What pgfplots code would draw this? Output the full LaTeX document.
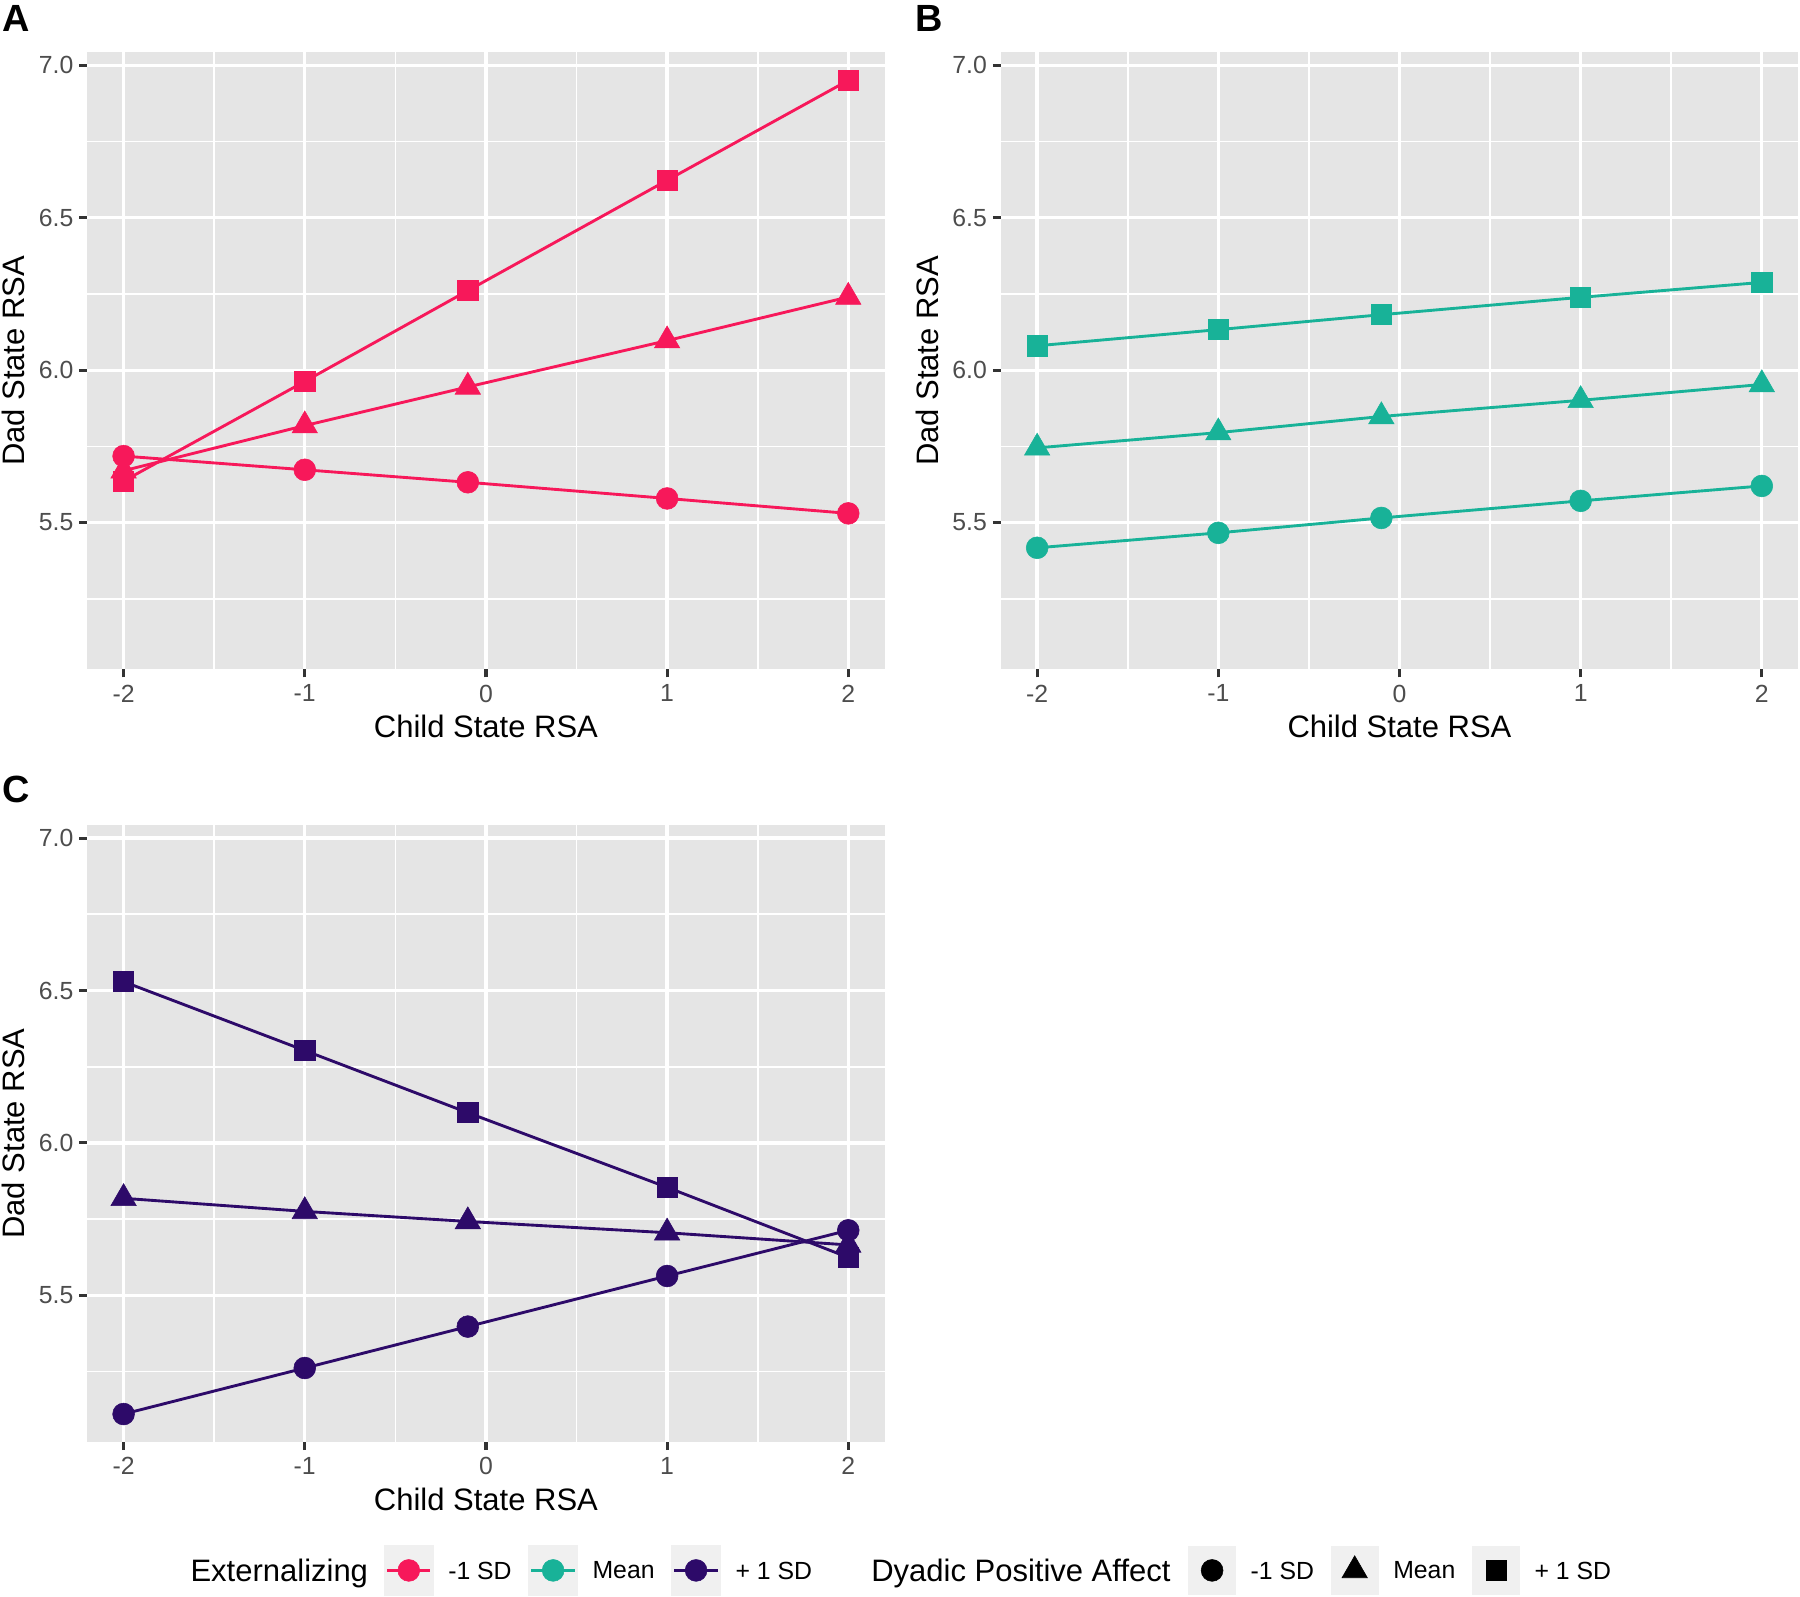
\documentclass[border=0pt]{standalone}
\usepackage{fontspec}
\setmainfont{Liberation Sans}
\usepackage{pgfplots}
\pgfplotsset{compat=1.18}
\definecolor{pinkc}{RGB}{247,24,90}
\definecolor{tealc}{RGB}{24,178,152}
\definecolor{purplec}{RGB}{45,10,105}
\definecolor{panelbg}{RGB}{229,229,229}
\definecolor{keybg}{RGB}{240,240,240}
\definecolor{tickc}{RGB}{77,77,77}
\definecolor{tickmark}{RGB}{51,51,51}

\pgfplotsset{
  ggpanel/.style={
    scale only axis, width=277.76pt, height=215pt,
    xmin=-2.2, xmax=2.2, ymin=5.018, ymax=7.043,
    axis background/.style={fill=panelbg},
    axis line style={draw=none},
    xtick={-2,-1,0,1,2}, xticklabels={-2,-1,0,1,2},
    minor xtick={-1.5,-0.5,0.5,1.5},
    ytick={5.5,6,6.5,7}, yticklabels={5.5,6.0,6.5,7.0},
    minor ytick={5.25,5.75,6.25,6.75},
    grid=both,
    major grid style={white, line width=1.15pt},
    minor grid style={white, line width=0.58pt},
    tick align=outside, tick pos=left,
    major tick length=2.8pt, minor tick length=0pt,
    major tick style={tickmark, line width=1.1pt},
    ticklabel style={font=\fontsize{8.64}{10}\selectfont, text=tickc, inner sep=0pt},
    xticklabel style={anchor=north, yshift=-2.4pt},
    yticklabel style={anchor=east, xshift=-1.9pt},
    xlabel={Child State RSA}, ylabel={Dad State RSA},
    label style={font=\fontsize{10.8}{13}\selectfont, inner sep=0pt},
    xlabel style={at={(axis description cs:0.5,-0.0929)}, anchor=center},
    ylabel style={at={(axis description cs:-0.0922,0.5)}, anchor=center},
  },
  sq/.style={line width=1pt, mark=square*, mark size=3.5pt, mark options={solid, line width=0.2pt}},
  tri/.style={line width=1pt, mark=triangle*, mark size=5.1pt, mark options={solid, line width=0.2pt}},
  cir/.style={line width=1pt, mark=*, mark size=3.8pt, mark options={solid, line width=0.2pt}},
  keyline/.style={legend image code/.code={%
      \fill[keybg] (0pt,-8.3pt) rectangle (16.3pt,8.3pt);
      \draw[##1] (0.6pt,0pt) -- (15.7pt,0pt);
      \draw[##1] plot[only marks] coordinates {(8.15pt,0pt)};
  }},
  keymark/.style={legend image code/.code={%
      \fill[keybg] (0pt,-8.3pt) rectangle (16.3pt,8.3pt);
      \draw[##1] plot[only marks] coordinates {(8.15pt,0pt)};
  }},
  gglegend/.style={
    hide axis, scale only axis, width=1pt, height=1pt,
    xmin=0, xmax=1, ymin=0, ymax=1, anchor=south west,
    legend columns=-1,
    legend style={at={(0,0)}, anchor=west, draw=none, fill=none, inner sep=0pt,
      font=\fontsize{8.64}{10}\selectfont,
      nodes={inner sep=0pt, text depth=0pt},
      /tikz/every odd column/.append style={column sep=5.1pt},
      /tikz/every even column/.append style={column sep=5.8pt}},
  },
}

\begin{document}
\begin{tikzpicture}[x=1pt,y=1pt]
\useasboundingbox (0,0) rectangle (627.2,-556.4);

% Panel A
\begin{axis}[ggpanel, at={(30.44pt,-233.24pt)}, anchor=south west]
\addplot[pinkc, cir] coordinates {(-2,5.718) (-1,5.673) (-0.1,5.632) (1,5.579) (2,5.530)};
\addplot[pinkc, tri] coordinates {(-2,5.670) (-1,5.818) (-0.1,5.945) (1,6.097) (2,6.240)};
\addplot[pinkc, sq] coordinates {(-2,5.636) (-1,5.963) (-0.1,6.261) (1,6.623) (2,6.951)};
\end{axis}

% Panel B
\begin{axis}[ggpanel, at={(348.76pt,-233.24pt)}, anchor=south west]
\addplot[tealc, cir] coordinates {(-2,5.417) (-1,5.466) (-0.1,5.515) (1,5.571) (2,5.620)};
\addplot[tealc, tri] coordinates {(-2,5.745) (-1,5.795) (-0.1,5.848) (1,5.901) (2,5.953)};
\addplot[tealc, sq] coordinates {(-2,6.080) (-1,6.133) (-0.1,6.182) (1,6.239) (2,6.288)};
\end{axis}

% Panel C
\begin{axis}[ggpanel, at={(30.44pt,-502.48pt)}, anchor=south west]
\addplot[purplec, cir] coordinates {(-2,5.110) (-1,5.261) (-0.1,5.397) (1,5.563) (2,5.713)};
\addplot[purplec, tri] coordinates {(-2,5.818) (-1,5.775) (-0.1,5.742) (1,5.705) (2,5.665)};
\addplot[purplec, sq] coordinates {(-2,6.529) (-1,6.303) (-0.1,6.099) (1,5.854) (2,5.624)};
\end{axis}

% Panel tags
\node[anchor=north west, inner sep=0pt, font=\fontsize{13.2}{15}\bfseries] at (0.6,-1.8) {A};
\node[anchor=north west, inner sep=0pt, font=\fontsize{13.2}{15}\bfseries] at (318.9,-1.8) {B};
\node[anchor=north west, inner sep=0pt, font=\fontsize{13.2}{15}\bfseries] at (0.6,-270.2) {C};

% Legend titles
\node[anchor=base west, inner sep=0pt, font=\fontsize{10.8}{13}\selectfont] at (66.2,-551.1) {Externalizing};
\node[anchor=base west, inner sep=0pt, font=\fontsize{10.8}{13}\selectfont] at (303.4,-551.1) {Dyadic Positive Affect};

% Legend 1: Externalizing
\begin{axis}[gglegend, at={(133.6pt,-547.2pt)}]
\addlegendimage{keyline, color=pinkc, line width=1pt, mark=*, mark size=3.8pt, mark options={solid, line width=0.2pt}}
\addlegendentry{-1 SD}
\addlegendimage{keyline, color=tealc, line width=1pt, mark=*, mark size=3.8pt, mark options={solid, line width=0.2pt}}
\addlegendentry{Mean}
\addlegendimage{keyline, color=purplec, line width=1pt, mark=*, mark size=3.8pt, mark options={solid, line width=0.2pt}}
\addlegendentry{+ 1 SD}
\end{axis}

% Legend 2: Dyadic Positive Affect
\begin{axis}[gglegend, at={(413.8pt,-547.2pt)}]
\addlegendimage{keymark, color=black, mark=*, mark size=3.8pt, mark options={solid, line width=0.2pt}}
\addlegendentry{-1 SD}
\addlegendimage{keymark, color=black, mark=triangle*, mark size=5.1pt, mark options={solid, line width=0.2pt}}
\addlegendentry{Mean}
\addlegendimage{keymark, color=black, mark=square*, mark size=3.5pt, mark options={solid, line width=0.2pt}}
\addlegendentry{+ 1 SD}
\end{axis}
\end{tikzpicture}
\end{document}
